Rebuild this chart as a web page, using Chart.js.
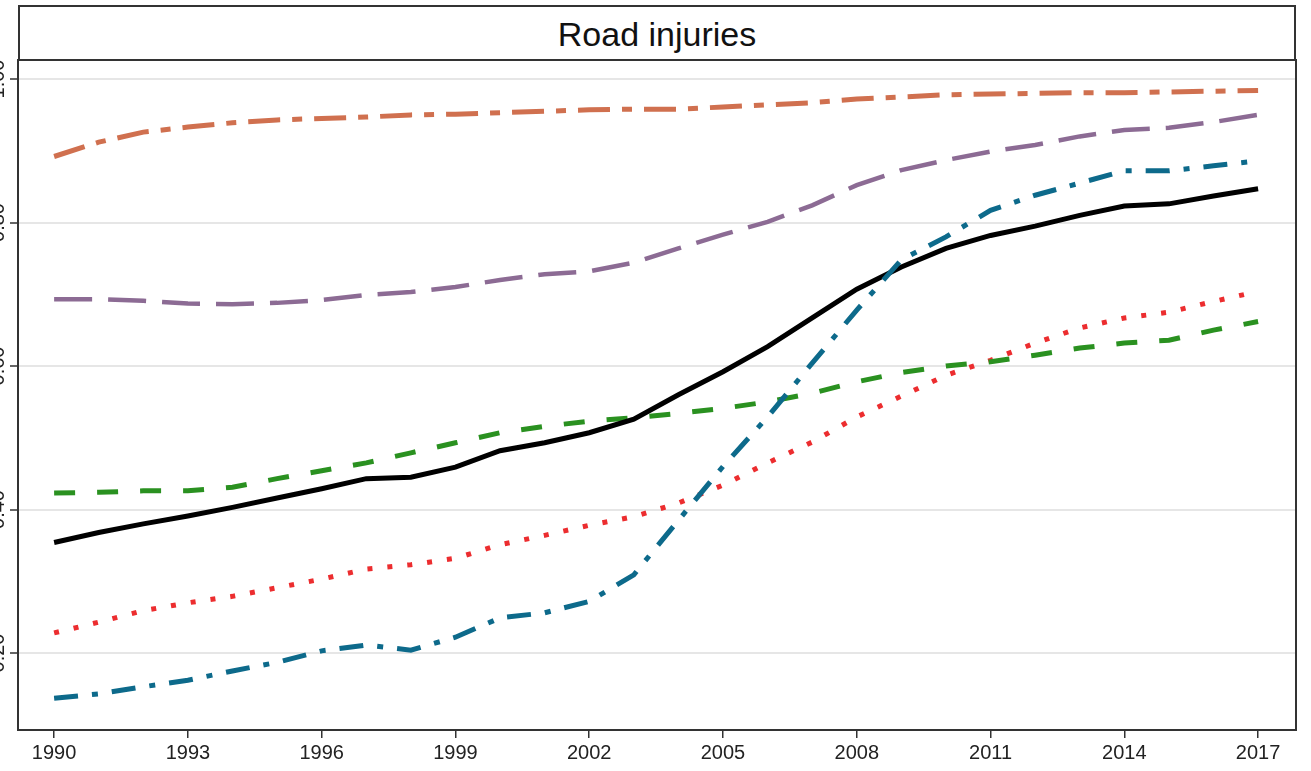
<!DOCTYPE html>
<html>
<head>
<meta charset="utf-8">
<script src="https://cdn.jsdelivr.net/npm/chart.js@4"></script>
<style>
  html, body { margin: 0; padding: 0; background: #fff; overflow: hidden; }
  body { width: 1311px; height: 771px; position: relative; }
  #title {
    position: absolute; left: 18px; top: 5px; width: 1278px; height: 56px;
    box-sizing: border-box; border: 2px solid #333;
    font-family: "Liberation Sans", Arial, sans-serif; font-size: 34px; color: #111;
    text-align: center; line-height: 54px;
  }
  #chart { position: absolute; left: -30px; top: 58px; }
</style>
</head>
<body>
<div id="title">Road injuries</div>
<canvas id="chart" width="1341" height="713"></canvas>
<script>
// data
const years = [1990, 1991, 1992, 1993, 1994, 1995, 1996, 1997, 1998, 1999, 2000, 2001, 2002, 2003,
  2004, 2005, 2006, 2007, 2008, 2009, 2010, 2011, 2012, 2013, 2014, 2015, 2016, 2017];
const xTicks = [1990, 1993, 1996, 1999, 2002, 2005, 2008, 2011, 2014, 2017];
const yTicks = [0.2, 0.4, 0.6, 0.8, 1.0];

const globalLine = [0.354, 0.368, 0.380, 0.391, 0.403, 0.416, 0.429, 0.443, 0.445, 0.459, 0.482, 0.493, 0.507, 0.526,
  0.560, 0.592, 0.627, 0.667, 0.707, 0.738, 0.764, 0.782, 0.795, 0.810, 0.823, 0.826, 0.837, 0.847];
const orangeLine = [0.892, 0.912, 0.926, 0.933, 0.939, 0.943, 0.945, 0.947, 0.950, 0.951, 0.953, 0.955, 0.957, 0.958,
  0.958, 0.961, 0.964, 0.967, 0.972, 0.975, 0.978, 0.979, 0.980, 0.981, 0.981, 0.982, 0.983, 0.984];
const purpleLine = [0.693, 0.693, 0.691, 0.687, 0.686, 0.688, 0.692, 0.699, 0.703, 0.710, 0.720, 0.728, 0.732, 0.744,
  0.764, 0.783, 0.801, 0.824, 0.852, 0.873, 0.887, 0.899, 0.908, 0.920, 0.929, 0.932, 0.940, 0.950];
const tealLine = [0.137, 0.143, 0.153, 0.162, 0.175, 0.187, 0.203, 0.211, 0.204, 0.222, 0.249, 0.256, 0.272, 0.309,
  0.385, 0.460, 0.529, 0.604, 0.678, 0.748, 0.780, 0.817, 0.838, 0.855, 0.872, 0.872, 0.879, 0.886];
const greenLine = [0.423, 0.424, 0.426, 0.426, 0.431, 0.443, 0.454, 0.465, 0.479, 0.493, 0.507, 0.516, 0.523, 0.528,
  0.534, 0.541, 0.550, 0.562, 0.578, 0.591, 0.600, 0.606, 0.615, 0.625, 0.632, 0.636, 0.650, 0.662];
const redLine = [0.228, 0.243, 0.259, 0.270, 0.279, 0.291, 0.303, 0.317, 0.323, 0.332, 0.351, 0.364, 0.378, 0.390,
  0.409, 0.434, 0.465, 0.494, 0.529, 0.558, 0.587, 0.608, 0.632, 0.653, 0.667, 0.675, 0.690, 0.704];

function toPoints(values) {
  return values.map((v, i) => ({ x: years[i], y: v }));
}

function line(label, values, color, dash, width) {
  return {
    label: label,
    data: toPoints(values),
    borderColor: color,
    borderWidth: width,
    borderDash: dash,
    borderCapStyle: "butt",
    pointRadius: 0,
    tension: 0,
    fill: false,
  };
}

// frame around the plot area
const framePlugin = {
  id: "frame",
  afterDatasetsDraw(chart) {
    const a = chart.chartArea;
    const ctx = chart.ctx;
    ctx.save();
    ctx.strokeStyle = "#333";
    ctx.lineWidth = 2;
    ctx.strokeRect(a.left, a.top, a.right - a.left, a.bottom - a.top);
    ctx.restore();
  },
};

const font = { family: "'Liberation Sans', Arial, sans-serif", size: 20 };

new Chart(document.getElementById("chart").getContext("2d"), {
  type: "line",
  data: {
    datasets: [
      line("Orange", orangeLine, "#d0704f", [32, 12, 10, 12], 5),
      line("Purple", purpleLine, "#8c6b94", [38, 16], 4.5),
      line("Teal", tealLine, "#0d6a8b", [24, 14, 6, 14], 5),
      line("Global", globalLine, "#000000", [], 5),
      line("Green", greenLine, "#2a9120", [21, 22], 5),
      line("Red", redLine, "#ec2d2f", [5, 15], 5),
    ],
  },
  options: {
    responsive: false,
    animation: false,
    layout: { padding: { top: 2, right: 15, left: 0, bottom: 0 } },
    plugins: {
      legend: { display: false },
      tooltip: { enabled: false },
    },
    scales: {
      x: {
        type: "linear",
        min: 1989.19,
        max: 2017.85,
        afterBuildTicks: (scale) => { scale.ticks = xTicks.map((v) => ({ value: v })); },
        afterFit: (scale) => { scale.height = 41; scale.paddingLeft = 0; scale.paddingRight = 0; },
        grid: { drawOnChartArea: false, drawTicks: true, tickLength: 8, tickColor: "#333", lineWidth: 1.5 },
        border: { display: false },
        ticks: { font: font, color: "#222", padding: 3, maxRotation: 0, callback: (v) => String(v) },
      },
      y: {
        type: "linear",
        min: 0.0927,
        max: 1.0265,
        afterBuildTicks: (scale) => { scale.ticks = yTicks.map((v) => ({ value: v })); },
        afterFit: (scale) => { scale.width = 48; scale.paddingTop = 0; scale.paddingBottom = 0; },
        grid: { color: "#e6e6e6", lineWidth: 2, tickLength: 8, tickColor: "#333", tickWidth: 1.5 },
        border: { display: false },
        ticks: {
          font: font, color: "#222", padding: -8, minRotation: 90, maxRotation: 90,
          crossAlign: "center",
          callback: (v) => v.toFixed(2),
        },
      },
    },
  },
  plugins: [framePlugin],
});
</script>
</body>
</html>
